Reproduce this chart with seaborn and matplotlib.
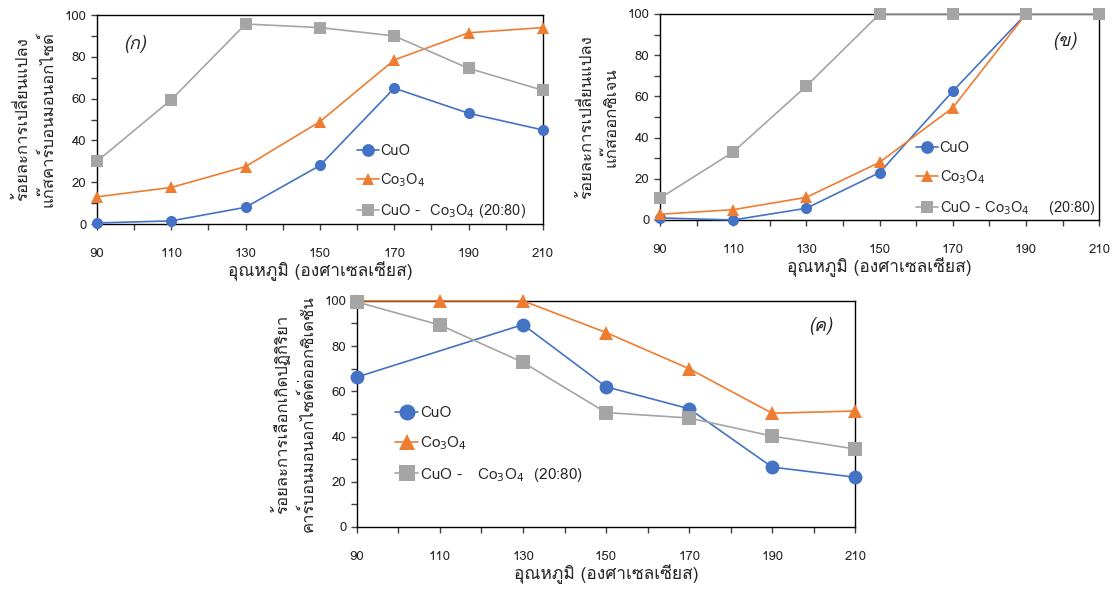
import numpy as np
import pandas as pd
import matplotlib
matplotlib.use("Agg")
import matplotlib.pyplot as plt
from matplotlib import font_manager
from matplotlib.ft2font import FT2Font
from matplotlib.ticker import MultipleLocator
import seaborn as sns

# ---------------- data ----------------
temps = [90, 110, 130, 150, 170, 190, 210]
series_keys = ["CuO", "Co3O4", "Mix"]
series_labels = ["CuO", "Co$_3$O$_4$", "CuO -  Co$_3$O$_4$ (20:80)"]
series_labels_b = ["CuO", "Co$_3$O$_4$", "CuO - Co$_3$O$_4$    (20:80)"]
series_labels_c = ["CuO", "Co$_3$O$_4$", "CuO -   Co$_3$O$_4$  (20:80)"]

# (ก) CO conversion
co_cuo = [0.5, 1.5, 8, 28, 65, 53, 45]
co_co3o4 = [13, 17.5, 27.5, 49, 78.5, 91.5, 94]
co_mix = [30, 59.5, 95.7, 94, 90, 74.5, 64]

# (ข) O2 conversion
o2_cuo = [1, 0, 5.7, 23, 62.5, 100, np.nan]
o2_co3o4 = [2.8, 5, 11, 28, 54.5, 100, np.nan]
o2_mix = [10.6, 33, 65, 100, 100, 100, 100]

# (ค) selectivity
sel_cuo = [66.3, np.nan, 89.5, 62, 52.3, 26.5, 22]
sel_co3o4 = [100, 100, 100, 86, 70, 50.3, 51.3]
sel_mix = [99.5, 89.3, 72.8, 50.6, 48.2, 40.2, 34.5]

xlabel_text = "อุณหภูมิ (องศาเซลเซียส)"
ylabel_a = "ร้อยละการเปลี่ยนแปลง\nแก๊สคาร์บอนมอนอกไซด์"
ylabel_b = "ร้อยละการเปลี่ยนแปลง\nแก๊สออกซิเจน"
ylabel_c = "ร้อยละการเลือกเกิดปฏิกิริยา\nคาร์บอนมอนอกไซด์ต่ออกซิเดชัน"
panel_labels = ["(ก)", "(ข)", "(ค)"]

colors = {"CuO": "#4472C4", "Co3O4": "#ED7D31", "Mix": "#A5A5A5"}
markers = {"CuO": "o", "Co3O4": "^", "Mix": "s"}

# ---------------- style / fonts ----------------
sns.set_theme(style="ticks")

thai_family = None
for f in font_manager.fontManager.ttflist:
    try:
        if 0x0E01 in FT2Font(f.fname).get_charmap():
            thai_family = f.name
            break
    except Exception:
        pass
fams = ([thai_family] if thai_family else []) + ["DejaVu Sans"]
plt.rcParams["font.family"] = fams
plt.rcParams["axes.unicode_minus"] = False


def make_df(vals):
    rows = []
    for key, v in zip(series_keys, vals):
        for t, y in zip(temps, v):
            if not (y is None or (isinstance(y, float) and np.isnan(y))):
                rows.append({"T": t, "val": y, "series": key})
    return pd.DataFrame(rows)


def draw(ax, vals, labels, ylabel, plabel, plabel_pos, leg_anchor, msize, fs_leg):
    df = make_df(vals)
    for key, lab in zip(series_keys, labels):
        sub = df[df["series"] == key]
        sns.lineplot(data=sub, x="T", y="val", ax=ax, color=colors[key],
                     marker=markers[key], markersize=msize, markeredgewidth=0,
                     linewidth=1.2, label=lab, estimator=None, sort=True,
                     clip_on=False, zorder=3)
    ax.set_xlim(90, 210)
    ax.set_ylim(0, 100)
    ax.set_xticks(temps)
    ax.set_yticks([0, 20, 40, 60, 80, 100])
    ax.xaxis.set_minor_locator(MultipleLocator(10))
    ax.yaxis.set_minor_locator(MultipleLocator(10))
    ax.tick_params(axis="both", which="both", direction="out", length=4,
                   width=1, color="#404040", labelsize=9.5, labelcolor="#222222")
    ax.tick_params(axis="x", which="major", pad=13)
    for s in ax.spines.values():
        s.set_visible(True)
        s.set_color("black")
        s.set_linewidth(1)
    ax.set_xlabel(xlabel_text, fontsize=12.5, labelpad=1)
    ax.set_ylabel(ylabel, fontsize=12, labelpad=6, linespacing=1.6)
    ax.text(plabel_pos[0], plabel_pos[1], plabel, transform=ax.transAxes,
            fontsize=13, fontstyle="italic", ha="center", va="center")
    ax.legend(loc="upper left", bbox_to_anchor=leg_anchor, frameon=False,
              fontsize=fs_leg, labelspacing=0.9, handlelength=1.5,
              handletextpad=0.1, borderaxespad=0, markerscale=1.15)
    ax.grid(False)
    ax.set_facecolor("white")


fig = plt.figure(figsize=(11.12, 5.92), dpi=100)
ax_a = fig.add_axes([0.0872, 0.6216, 0.401, 0.353])
ax_b = fig.add_axes([0.5935, 0.6284, 0.395, 0.348])
ax_c = fig.add_axes([0.321, 0.1098, 0.448, 0.382])

draw(ax_a, [co_cuo, co_co3o4, co_mix], series_labels, ylabel_a, panel_labels[0],
     (0.085, 0.86), (0.57, 0.41), 8, 10.5)
draw(ax_b, [o2_cuo, o2_co3o4, o2_mix], series_labels_b, ylabel_b, panel_labels[1],
     (0.92, 0.87), (0.57, 0.41), 8, 10.5)
draw(ax_c, [sel_cuo, sel_co3o4, sel_mix], series_labels_c, ylabel_c, panel_labels[2],
     (0.93, 0.89), (0.065, 0.56), 10, 11)

fig.savefig("out.png", dpi=100, facecolor="white")
